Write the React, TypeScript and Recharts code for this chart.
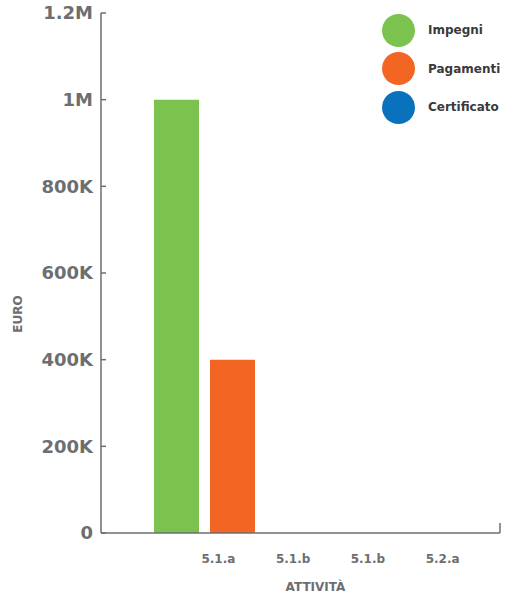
import { BarChart, Bar, XAxis, YAxis, Legend, Label } from 'recharts';

const categories = ['5.1.a', '5.1.b', '5.1.b', '5.2.a'];
const impegni = [1000000, 0, 0, 0];
const pagamenti = [400000, 0, 0, 0];
const certificato = [0, 0, 0, 0];
const yTicks = [0, 200000, 400000, 600000, 800000, 1000000, 1200000];

const SERIES = [
  { key: 'impegni', name: 'Impegni', color: '#7bc24f' },
  { key: 'pagamenti', name: 'Pagamenti', color: '#f26522' },
  { key: 'certificato', name: 'Certificato', color: '#0a72bc' },
];

const data = categories.map((cat, i) => ({
  cat,
  impegni: impegni[i],
  pagamenti: pagamenti[i],
  certificato: certificato[i],
}));

const AXIS = '#6d6e71';
const FONT = '"DejaVu Sans", sans-serif';

function formatEuro(v: number) {
  if (v === 0) return '0';
  if (v >= 1000000) return `${v / 1000000}M`;
  return `${v / 1000}K`;
}

function LegendContent() {
  return (
    <div style={{ fontFamily: FONT }}>
      {SERIES.map((s) => (
        <div key={s.key} style={{ display: 'flex', alignItems: 'center', height: 38.5 }}>
          <span
            style={{
              width: 33,
              height: 33,
              borderRadius: '50%',
              background: s.color,
              display: 'inline-block',
            }}
          />
          <span style={{ marginLeft: 13, fontSize: 12, fontWeight: 'bold', color: '#3a3a3c' }}>
            {s.name}
          </span>
        </div>
      ))}
    </div>
  );
}

export default function App() {
  return (
    <div style={{ position: 'absolute', left: 0, top: 0 }}>
      <BarChart
        width={507}
        height={596}
        data={data}
        margin={{ top: 13, right: 7, left: 0, bottom: 0 }}
        barGap={11}
      >
        {/* baseline of the x axis with the small closing tick at its right end */}
        <XAxis
          xAxisId="end"
          type="number"
          dataKey="certificato"
          domain={[0, 1]}
          allowDataOverflow
          ticks={[1]}
          interval={0}
          height={1}
          axisLine={{ stroke: AXIS, strokeWidth: 1.5 }}
          tickLine={{ stroke: AXIS, strokeWidth: 1.5 }}
          tickSize={-10}
          tick={() => <g />}
        />
        <XAxis
          xAxisId="labels"
          dataKey="cat"
          height={62}
          padding={{ left: 80, right: 20 }}
          axisLine={false}
          tickLine={false}
          tickSize={0}
          tickMargin={20}
          tick={{ fontSize: 12, fontWeight: 'bold', fill: AXIS, fontFamily: FONT }}
        >
          <Label
            value="ATTIVITÀ"
            position="insideBottom"
            offset={5}
            dx={15}
            style={{ fontSize: 12, fontWeight: 'bold', fill: AXIS, fontFamily: FONT }}
          />
        </XAxis>
        <XAxis xAxisId="bars" dataKey="cat" hide height={0} padding={{ left: 52, right: -61 }} />
        <XAxis xAxisId="blue" dataKey="cat" hide height={0} padding={{ left: 52, right: -61 }} />
        <YAxis
          width={101}
          domain={[0, 1200000]}
          ticks={yTicks}
          interval={0}
          tickFormatter={formatEuro}
          axisLine={{ stroke: AXIS, strokeWidth: 1.5 }}
          tickLine={{ stroke: AXIS, strokeWidth: 1.5 }}
          tickSize={-5}
          tickMargin={13}
          tick={{ fontSize: 18, fontWeight: 'bold', fill: AXIS, fontFamily: FONT }}
        >
          <Label
            content={() => (
              <text
                x={18}
                y={314}
                transform="rotate(-90 18 314)"
                textAnchor="middle"
                dominantBaseline="central"
                style={{ fontSize: 12, fontWeight: 'bold', fill: AXIS, fontFamily: FONT }}
              >
                EURO
              </text>
            )}
          />
        </YAxis>
        <Legend
          layout="horizontal"
          verticalAlign="middle"
          align="center"
          content={<LegendContent />}
          wrapperStyle={{ position: 'absolute', left: 382, top: 11, width: 125 }}
        />
        <Bar
          xAxisId="bars"
          dataKey="impegni"
          name="Impegni"
          fill={SERIES[0].color}
          barSize={45}
          isAnimationActive={false}
        />
        <Bar
          xAxisId="bars"
          dataKey="pagamenti"
          name="Pagamenti"
          fill={SERIES[1].color}
          barSize={45}
          isAnimationActive={false}
        />
        <Bar
          xAxisId="blue"
          dataKey="certificato"
          name="Certificato"
          fill={SERIES[2].color}
          barSize={45}
          isAnimationActive={false}
        />
      </BarChart>
    </div>
  );
}
